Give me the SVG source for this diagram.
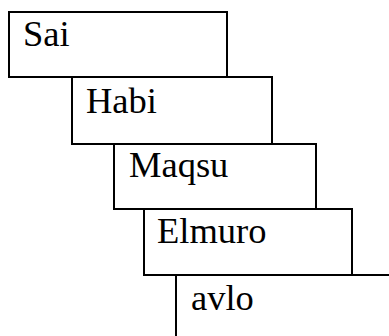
<svg xmlns="http://www.w3.org/2000/svg" width="389" height="336" viewBox="0 0 389 336">
<style>
.box rect{fill:#fff;stroke:#000;stroke-width:2}
.box text{font-family:"Liberation Serif","Times New Roman",serif;font-size:36.5px;fill:#000}
</style>
<rect width="389" height="336" fill="#fff"/>
<g id="node-sai" class="box"><rect x="9" y="12" width="218" height="65"/><text x="23" y="46">Sai</text></g>
<g id="node-habi" class="box"><rect x="72" y="77" width="200" height="67"/><text x="86" y="113">Habi</text></g>
<g id="node-maqsu" class="box"><rect x="114" y="144" width="202" height="65"/><text x="129" y="177">Maqsu</text></g>
<g id="node-elmuro" class="box"><rect x="144" y="209" width="208" height="66"/><text x="157" y="243">Elmuro</text></g>
<g id="node-avlo" class="box"><rect x="176" y="275" width="230" height="70"/><text x="191" y="310">avlo</text></g>
<g id="connectors"></g>
</svg>
